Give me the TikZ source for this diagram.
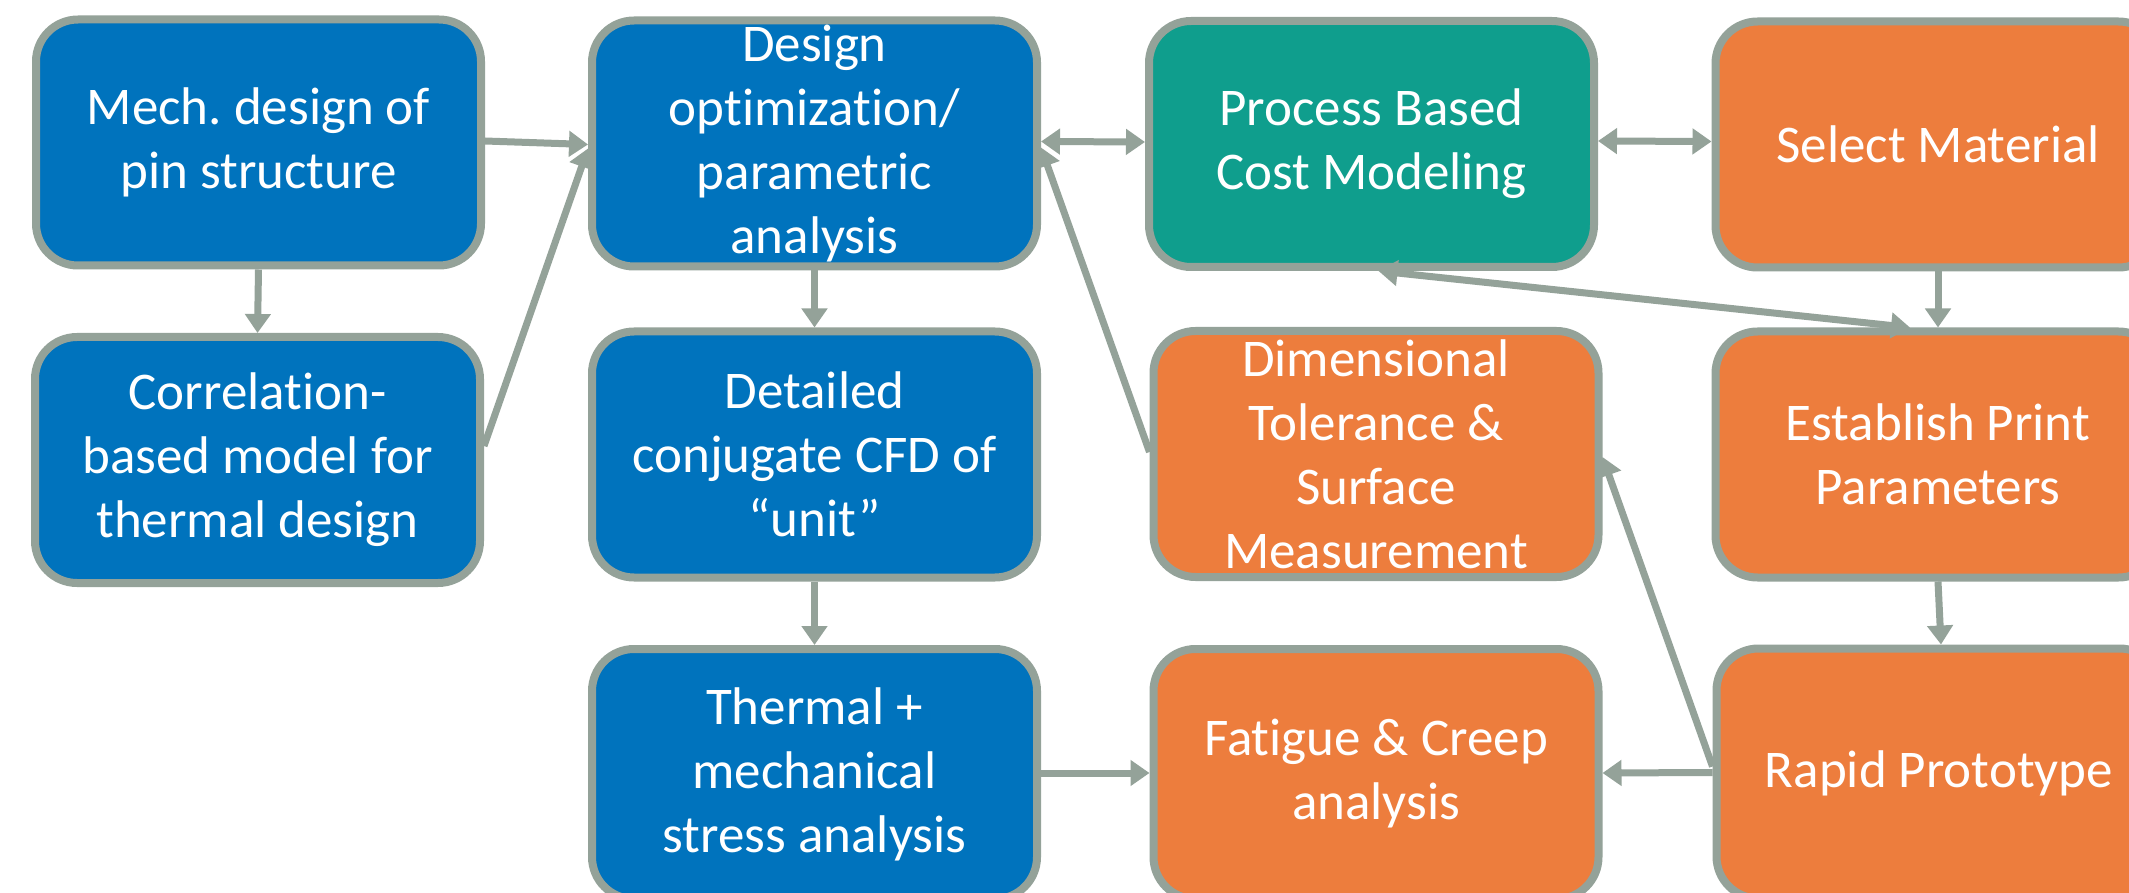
\documentclass[tikz,border=0pt]{standalone}
\usepackage{fontspec}
\setmainfont{Carlito}[Ligatures={NoCommon}]
\usetikzlibrary{arrows.meta}
\frenchspacing
\definecolor{cblue}{RGB}{0,115,189}
\definecolor{cteal}{RGB}{15,158,141}
\definecolor{corange}{RGB}{237,125,61}
\definecolor{cgray}{RGB}{148,162,153}
\tikzset{
  box/.style={draw=cgray, line width=8pt, rounded corners=42pt,
    minimum width=445pt, minimum height=246pt, inner sep=0pt,
    text=white, align=center, font=\fontsize{53}{64}\selectfont},
  bluebox/.style={box, fill=cblue},
  tealbox/.style={box, fill=cteal},
  orangebox/.style={box, fill=corange},
  tallbox/.style={minimum height=250pt},
  conn/.style={draw=cgray, line width=7pt,
    -{Triangle[length=19pt,width=25pt]}},
  conn2/.style={draw=cgray, line width=7pt,
    {Triangle[length=19pt,width=25pt]}-{Triangle[length=19pt,width=25pt]}}
}
\begin{document}
\begin{tikzpicture}[x=1pt,y=1pt]
\useasboundingbox[fill=white] (0,0) rectangle (2129,-893);
% column 1
\node[bluebox] (mech) at (258.5,-142.5) {Mech. design of\\pin structure};
\node[bluebox] (corr) at (257.5,-460) {Correlation-\\based model for\\thermal design};
% column 2
\node[bluebox] (opt) at (814.5,-143.5) {Design\\optimization/\\parametric\\analysis};
\node[bluebox] (cfd) at (814.5,-454.5) {Detailed\\conjugate CFD of\\“unit”};
\node[bluebox,tallbox] (therm) at (814.5,-774) {Thermal +\\mechanical\\stress analysis};
% column 3
\node[tealbox] (cost) at (1371.5,-144) {Process Based\\Cost Modeling};
\node[orangebox] (dim) at (1376,-454) {Dimensional\\Tolerance \&\\Surface\\Measurement};
\node[orangebox,tallbox] (fat) at (1376,-774) {Fatigue \& Creep\\analysis};
% column 4
\node[orangebox] (mat) at (1938,-144.5) {Select Material};
\node[orangebox] (print) at (1938,-454.5) {Establish Print\\Parameters};
\node[orangebox,tallbox] (rapid) at (1939,-773.5) {Rapid Prototype};
% connectors
\draw[conn] ([yshift=1.5pt]mech.east) -- ([yshift=-1pt]opt.west);
\draw[conn] (mech.south) -- (corr.north);
\draw[conn] ([yshift=14pt]corr.east) -- ([yshift=-5pt]opt.west);
\draw[conn2] ([yshift=2pt]opt.east) -- ([yshift=2pt]cost.west);
\draw[conn2] ([yshift=3pt]cost.east) -- ([yshift=3pt]mat.west);
\draw[conn] (opt.south) -- (cfd.north);
\draw[conn] (cfd.south) -- (therm.north);
\draw[conn] ([yshift=2pt]dim.west) -- ([yshift=-4pt]opt.east);
\draw[conn2] ([xshift=7pt]cost.south) -- ([xshift=-28pt]print.north);
\draw[conn] (mat.south) -- (print.north);
\draw[conn] (print.south) -- ([xshift=2pt]rapid.north);
\draw[conn] ([yshift=7pt]rapid.west) -- ([yshift=-3pt]dim.east);
\draw[conn] ([yshift=1pt]rapid.west) -- ([yshift=1pt]fat.east);
\draw[conn] ([yshift=1pt]therm.east) -- ([yshift=1pt]fat.west);
\end{tikzpicture}
\end{document}
